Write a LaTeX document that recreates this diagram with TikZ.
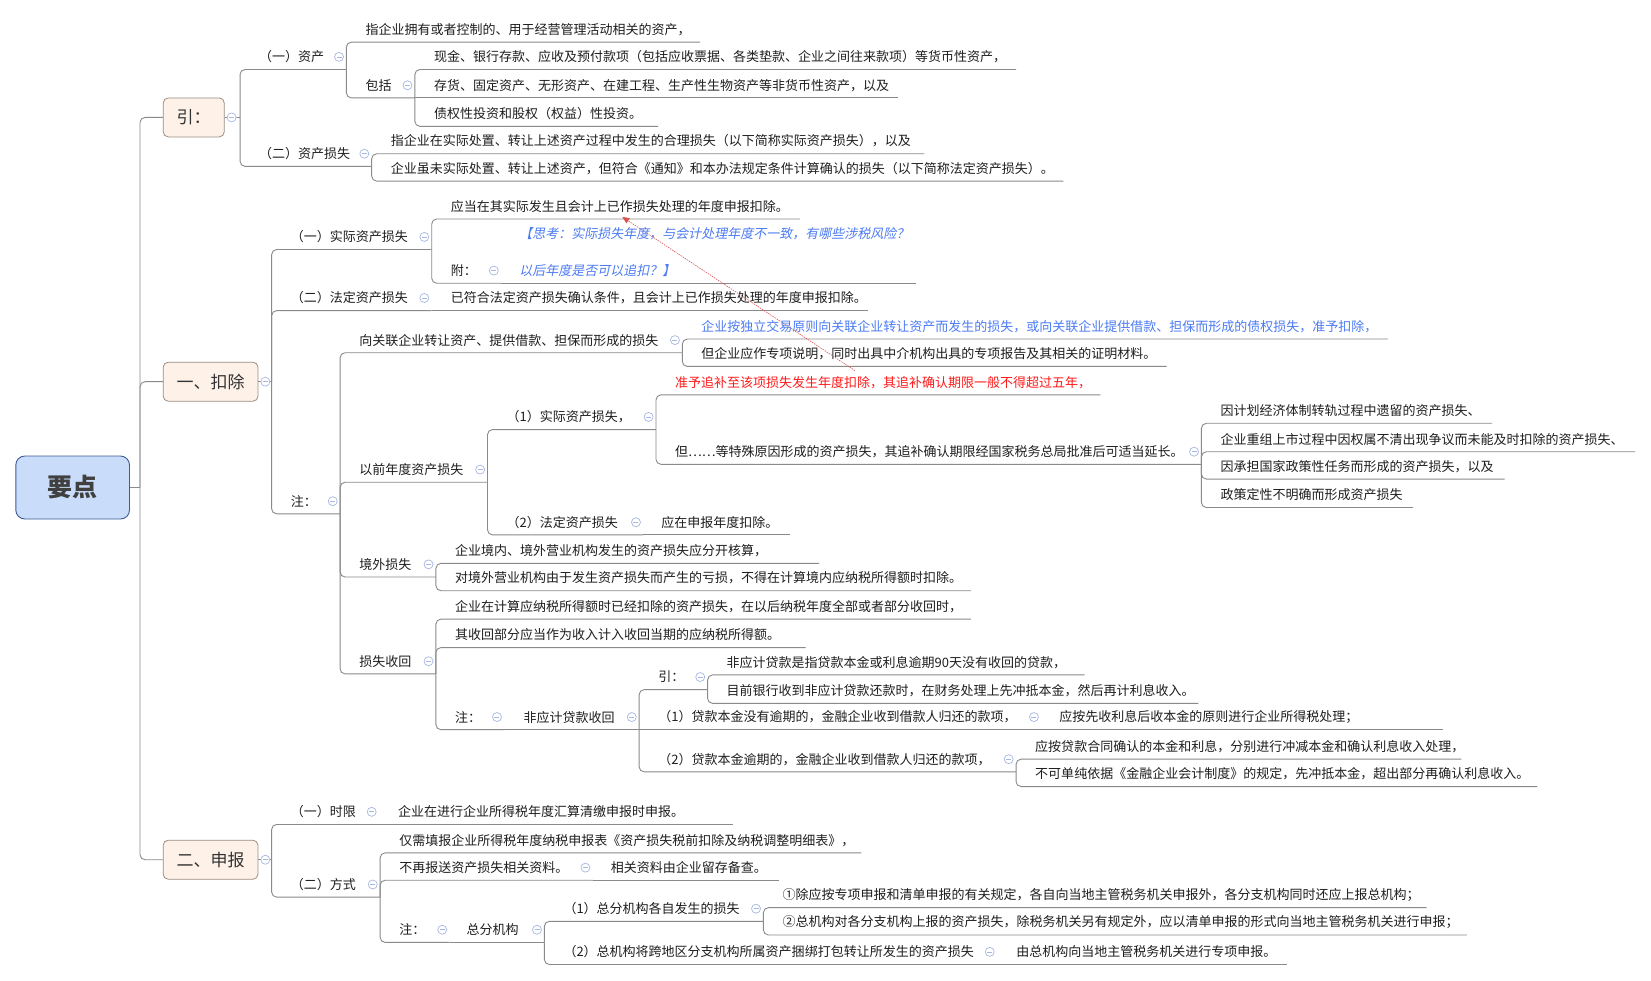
\documentclass[tikz,border=0pt]{standalone}
\usepackage{fontspec}
\setmainfont{Noto Sans CJK SC}
\newfontfamily\itcjk{Noto Sans CJK SC}[FakeSlant=0.2]
\usetikzlibrary{arrows.meta}
\definecolor{linegray}{HTML}{8A8A8A}
\definecolor{txtc}{HTML}{1E1E1E}
\definecolor{colc}{HTML}{A7B7E3}
\definecolor{brf}{HTML}{FDF1E8}
\definecolor{brd}{HTML}{9A8E84}
\definecolor{rootf}{HTML}{C9DCFA}
\definecolor{rootd}{HTML}{3E5C94}
\definecolor{bluet}{HTML}{4C7BF3}
\definecolor{redt}{HTML}{FF1A1A}
\definecolor{relc}{HTML}{D9534F}
\tikzset{
  ln/.style={draw=linegray, line width=0.9pt, rounded corners=5pt},
  tx/.style={anchor=west, inner sep=0pt, text=txtc, font=\fontsize{13}{16}\selectfont},
  colz/.style={circle, draw=colc, fill=white, line width=0.7pt, minimum size=9pt, inner sep=0pt,
    path picture={\draw[colc, line width=0.7pt] ([xshift=-2.5pt]path picture bounding box.center) -- ([xshift=2.5pt]path picture bounding box.center);}},
  brbox/.style={draw=brd, fill=brf, rounded corners=5pt, line width=0.8pt, minimum height=39pt,
    inner sep=0pt, text=black!80, font=\fontsize{17}{20}\selectfont},
  rootbox/.style={draw=rootd, fill=rootf, rounded corners=9pt, line width=0.9pt, minimum width=113.7pt,
    minimum height=63pt, inner sep=0pt, text=black!75, font=\fontsize{25}{28}\selectfont\bfseries},
  rel/.style={draw=relc, line width=0.6pt, dash pattern=on 1.5pt off 1pt, -{Triangle[length=7pt,width=6pt]}},
}
\newcommand\mnode[5]{\node[tx] (#1) at (#2,#3-12) {#5}; \coordinate (#1-e) at (#4,#3);}
\newcommand\clz[1]{\path (#1-e) ++(-7,-12) node[colz] (#1-c) {};}
\newcommand\mconn[2]{\draw[ln] (#1-e) |- (#2-e);}
\newcommand\mstr[2]{\draw[ln] (#1-e) -- (#2-e);}
\begin{document}
\begin{tikzpicture}[x=1.0529pt,y=-1.0529pt]
\fill[white] (0,0) rectangle (1568,931);
\useasboundingbox (0,0) rectangle (1568,931);

% root and branches
\node[rootbox] (root) at (69,463) {要点};
\node[brbox, minimum width=61pt] (yin) at (184,111.5) {引：};
\node[brbox, minimum width=94.8pt] (kc) at (200,362.5) {一、扣除};
\node[brbox, minimum width=94.8pt] (sb) at (200,816.5) {二、申报};
\coordinate (root-e) at (133,463);
\coordinate (yin-e) at (228,111.5);
\coordinate (kc-e) at (258,362.5);
\coordinate (sb-e) at (258,816.5);
\draw[ln] (root.east) -- (root-e);
\draw[ln] (root-e) |- (yin.west);
\draw[ln] (root-e) |- (kc.west);
\draw[ln] (root-e) |- (sb.west);
\draw[ln] (yin.east) -- (yin-e);
\draw[ln] (kc.east) -- (kc-e);
\draw[ln] (sb.east) -- (sb-e);

% ===== 引 =====
\mnode{zc}{246}{66}{329}{（一）资产}
\mnode{zc1}{347}{40}{665}{指企业拥有或者控制的、用于经营管理活动相关的资产，}
\mnode{bk}{347}{93}{394}{包括}
\mnode{bk1}{412}{66}{965}{现金、银行存款、应收及预付款项（包括应收票据、各类垫款、企业之间往来款项）等货币性资产，}
\mnode{bk2}{412}{93}{853}{存货、固定资产、无形资产、在建工程、生产性生物资产等非货币性资产，以及}
\mnode{bk3}{412}{120}{625}{债权性投资和股权（权益）性投资。}
\mnode{zs}{246}{158}{353}{（二）资产损失}
\mnode{zs1}{371}{146}{878}{指企业在实际处置、转让上述资产过程中发生的合理损失（以下简称实际资产损失），以及}
\mnode{zs2}{371}{172}{1010}{企业虽未实际处置、转让上述资产，但符合《通知》和本办法规定条件计算确认的损失（以下简称法定资产损失）。}
\mconn{yin}{zc}\mconn{yin}{zs}
\mconn{zc}{zc1}\mconn{zc}{bk}
\mconn{bk}{bk1}\mstr{bk}{bk2}\mconn{bk}{bk3}
\mconn{zs}{zs1}\mconn{zs}{zs2}
\clz{zc}\clz{bk}\clz{zs}

% ===== 一、扣除 =====
\mnode{sj}{276}{237}{410}{（一）实际资产损失}
\mnode{sj1}{428}{208}{760}{应当在其实际发生且会计上已作损失处理的年度申报扣除。}
\mnode{fu}{428}{269}{476}{附：}
\node[tx, align=left, text=bluet, font=\fontsize{13}{16}\itcjk] (fu1) at (493,239.5)
  {【思考：实际损失年度，与会计处理年度不一致，有哪些涉税风险？\\[21pt]以后年度是否可以追扣？】};
\coordinate (fu1-e) at (870,269);
\mnode{fd}{276}{295}{410}{（二）法定资产损失}
\mnode{fd1}{428}{295}{824}{已符合法定资产损失确认条件，且会计上已作损失处理的年度申报扣除。}
\mnode{zhu}{276}{488}{323}{注：}
\mnode{gl}{341}{335}{648}{向关联企业转让资产、提供借款、担保而形成的损失}
\node[tx, text=bluet] (gl1) at (666,310) {企业按独立交易原则向关联企业转让资产而发生的损失，或向关联企业提供借款、担保而形成的债权损失，准予扣除，};
\coordinate (gl1-e) at (1318,322);
\mnode{gl2}{666}{348}{1108}{但企业应作专项说明，同时出具中介机构出具的专项报告及其相关的证明材料。}
\mnode{yq}{341}{458}{463}{以前年度资产损失}
\mnode{yq1}{481}{408}{623}{（1）实际资产损失，}
\node[tx, text=redt] (yq11) at (641,363) {准予追补至该项损失发生年度扣除，其追补确认期限一般不得超过五年，};
\coordinate (yq11-e) at (1045,375);
\mnode{yq12}{641}{441}{1141}{但……等特殊原因形成的资产损失，其追补确认期限经国家税务总局批准后可适当延长。}
\mnode{d1}{1159}{402}{1417}{因计划经济体制转轨过程中遗留的资产损失、}
\mnode{d2}{1159}{429}{1553}{企业重组上市过程中因权属不清出现争议而未能及时扣除的资产损失、}
\mnode{d3}{1159}{455}{1429}{因承担国家政策性任务而形成的资产损失，以及}
\mnode{d4}{1159}{482}{1342}{政策定性不明确而形成资产损失}
\mnode{yq2}{481}{508}{611}{（2）法定资产损失}
\mnode{yq21}{628}{508}{750}{应在申报年度扣除。}
\mnode{jw}{341}{548}{414}{境外损失}
\mnode{jw1}{432}{535}{778}{企业境内、境外营业机构发生的资产损失应分开核算，}
\mnode{jw2}{432}{561}{922}{对境外营业机构由于发生资产损失而产生的亏损，不得在计算境内应纳税所得额时扣除。}
\mnode{ss}{341}{640}{414}{损失收回}
\mnode{ss1}{432}{588}{922}{企业在计算应纳税所得额时已经扣除的资产损失，在以后纳税年度全部或者部分收回时，}
\mnode{ss2}{432}{615}{765}{其收回部分应当作为收入计入收回当期的应纳税所得额。}
\mnode{sz}{432}{693}{479}{注：}
\mnode{fy}{497}{693}{607}{非应计贷款收回}
\mnode{fyy}{625}{655}{672}{引：}
\mnode{fyy1}{690}{641}{1030}{非应计贷款是指贷款本金或利息逾期90天没有收回的贷款，}
\mnode{fyy2}{690}{668}{1138}{目前银行收到非应计贷款还款时，在财务处理上先冲抵本金，然后再计利息收入。}
\mnode{fy1}{625}{693}{989}{（1）贷款本金没有逾期的，金融企业收到借款人归还的款项，}
\mnode{fy11}{1006}{693}{1370}{应按先收利息后收本金的原则进行企业所得税处理；}
\mnode{fy2}{625}{733}{965}{（2）贷款本金逾期的，金融企业收到借款人归还的款项，}
\mnode{fy21}{983}{721}{1388}{应按贷款合同确认的本金和利息，分别进行冲减本金和确认利息收入处理，}
\mnode{fy22}{983}{747}{1460}{不可单纯依据《金融企业会计制度》的规定，先冲抵本金，超出部分再确认利息收入。}

\mconn{kc}{sj}\mconn{kc}{fd}\mconn{kc}{zhu}
\mconn{sj}{sj1}\mconn{sj}{fu}\mstr{fu}{fu1}
\mstr{fd}{fd1}
\mconn{zhu}{gl}\mconn{zhu}{yq}\mconn{zhu}{jw}\mconn{zhu}{ss}
\mconn{gl}{gl1}\mconn{gl}{gl2}
\mconn{yq}{yq1}\mconn{yq}{yq2}
\mconn{yq1}{yq11}\mconn{yq1}{yq12}
\mconn{yq12}{d1}\mconn{yq12}{d2}\mconn{yq12}{d3}\mconn{yq12}{d4}
\mstr{yq2}{yq21}
\mconn{jw}{jw1}\mconn{jw}{jw2}
\mconn{ss}{ss1}\mconn{ss}{ss2}\mconn{ss}{sz}
\mstr{sz}{fy}
\mconn{fy}{fyy}\mstr{fy}{fy1}\mconn{fy}{fy2}
\mconn{fyy}{fyy1}\mconn{fyy}{fyy2}
\mstr{fy1}{fy11}
\mconn{fy2}{fy21}\mconn{fy2}{fy22}
\clz{sj}\clz{fu}\clz{fd}\clz{zhu}\clz{gl}\clz{yq}\clz{yq1}\clz{yq12}\clz{yq2}
\clz{jw}\clz{ss}\clz{sz}\clz{fy}\clz{fyy}\clz{fy1}\clz{fy2}

% ===== 二、申报 =====
\mnode{sx}{276}{783}{360}{（一）时限}
\mnode{sx1}{378}{783}{696}{企业在进行企业所得税年度汇算清缴申报时申报。}
\mnode{fs}{276}{852}{361}{（二）方式}
\mnode{fs1}{379}{810}{818}{仅需填报企业所得税年度纳税申报表《资产损失税前扣除及纳税调整明细表》，}
\mnode{fs2}{379}{836}{563}{不再报送资产损失相关资料。}
\mnode{fs21}{580}{836}{740}{相关资料由企业留存备查。}
\mnode{fz}{379}{895}{427}{注：}
\mnode{zf}{443}{895}{517}{总分机构}
\mnode{zf1}{535}{875}{725}{（1）总分机构各自发生的损失}
\mnode{zf11}{743}{862}{1355}{①除应按专项申报和清单申报的有关规定，各自向当地主管税务机关申报外，各分支机构同时还应上报总机构；}
\mnode{zf12}{743}{888}{1393}{②总机构对各分支机构上报的资产损失，除税务机关另有规定外，应以清单申报的形式向当地主管税务机关进行申报；}
\mnode{zf2}{535}{916}{947}{（2）总机构将跨地区分支机构所属资产捆绑打包转让所发生的资产损失}
\mnode{zf21}{965}{916}{1222}{由总机构向当地主管税务机关进行专项申报。}
\mconn{sb}{sx}\mconn{sb}{fs}
\mstr{sx}{sx1}
\mconn{fs}{fs1}\mconn{fs}{fs2}\mconn{fs}{fz}
\mstr{fs2}{fs21}
\mstr{fz}{zf}
\mconn{zf}{zf1}\mconn{zf}{zf2}
\mconn{zf1}{zf11}\mconn{zf1}{zf12}
\mstr{zf2}{zf21}
\clz{sx}\clz{fs}\clz{fs2}\clz{fz}\clz{zf}\clz{zf1}\clz{zf2}

% collapse icons on branch lines
\node[colz] (yin-c) at (220,111.5) {};
\node[colz] (kc-c) at (252,362.5) {};
\node[colz] (sb-c) at (252,816.5) {};

% relationship arrow
\coordinate (relS) at (812,352);
\coordinate (relE) at (591,206);
\draw[rel] (relS) -- (relE);
\end{tikzpicture}
\end{document}
